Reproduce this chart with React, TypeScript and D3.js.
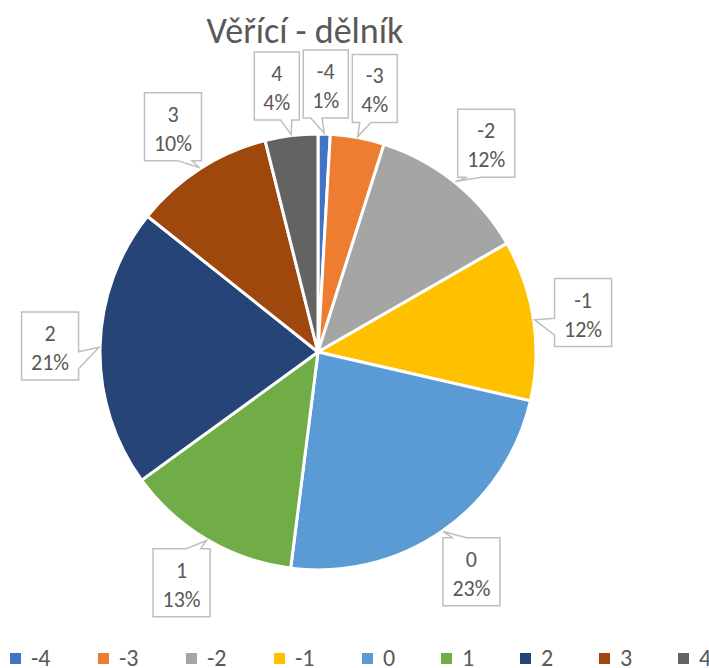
import * as d3 from 'd3'

// data (share of answers, %)
const categories = ['-4', '-3', '-2', '-1', '0', '1', '2', '3', '4']
const values = [0.9, 4.0, 11.8, 11.9, 23.4, 13.0, 20.7, 10.4, 3.9]
const colors = ['#4472C4', '#ED7D31', '#A5A5A5', '#FFC000', '#5B9BD5', '#70AD47', '#264478', '#9E480E', '#636363']
const title = 'Věřící - dělník'

const W = 709
const H = 668
const cx = 318
const cy = 352
const R = 218
const FONT = "Carlito, Calibri, 'Liberation Sans', Arial, sans-serif"
const GREY = '#595959'

type Lbl = { x: number; y: number; w: number; h: number; tx: number; ty: number; cat: string; pct: string }

// callout box with a wedge towards (tx, ty)
function calloutPath(l: Lbl) {
  const x0 = l.x - l.w / 2
  const y0 = l.y - l.h / 2
  const x1 = x0 + l.w
  const y1 = y0 + l.h
  const dx = (l.tx - l.x) / l.w
  const dy = (l.ty - l.y) / l.h
  const fr = (t: number) => (t > 0.5 ? [7 / 12, 10 / 12] : [2 / 12, 5 / 12])
  if (Math.abs(dx) > Math.abs(dy)) {
    const [a, b] = fr((l.ty - y0) / l.h)
    const ya = y0 + a * l.h
    const yb = y0 + b * l.h
    if (dx > 0) {
      return `M${x0},${y0}H${x1}V${ya}L${l.tx},${l.ty}L${x1},${yb}V${y1}H${x0}Z`
    }
    return `M${x0},${y0}H${x1}V${y1}H${x0}V${yb}L${l.tx},${l.ty}L${x0},${ya}Z`
  }
  const [a, b] = fr((l.tx - x0) / l.w)
  const xa = x0 + a * l.w
  const xb = x0 + b * l.w
  if (dy > 0) {
    return `M${x0},${y0}H${x1}V${y1}H${xb}L${l.tx},${l.ty}L${xa},${y1}H${x0}Z`
  }
  return `M${x0},${y0}H${xa}L${l.tx},${l.ty}L${xb},${y0}H${x1}V${y1}H${x0}Z`
}

export default function App() {
  const total = d3.sum(values)
  const pie = d3
    .pie<number>()
    .sort(null)
    .value((d) => d)
  const arcs = pie(values)
  const arc = d3.arc<d3.PieArcDatum<number>>().innerRadius(0).outerRadius(R)

  // label boxes placed outside the pie on the mid angle
  const labels: Lbl[] = arcs.map((a, i) => {
    const mid = (a.startAngle + a.endAngle) / 2
    const pct = Math.round((values[i] / total) * 100) + '%'
    const lr = 268
    return {
      x: cx + Math.sin(mid) * lr,
      y: cy - Math.cos(mid) * lr,
      w: 21 + 12 * pct.length,
      h: 68,
      tx: cx + Math.sin(mid) * (R + 1),
      ty: cy - Math.cos(mid) * (R + 1),
      cat: categories[i],
      pct,
    }
  })
  // push overlapping boxes apart sideways
  for (let k = 0; k < 30; k++) {
    for (let i = 0; i < labels.length; i++) {
      for (let j = i + 1; j < labels.length; j++) {
        const p = labels[i]
        const q = labels[j]
        const need = (p.w + q.w) / 2 + 4
        const sep = Math.abs(p.x - q.x)
        if (Math.abs(p.y - q.y) < (p.h + q.h) / 2 && sep < need) {
          const s = (need - sep) / 2
          if (p.x < q.x) {
            p.x -= s
            q.x += s
          } else {
            p.x += s
            q.x -= s
          }
        }
      }
    }
  }

  // legend row
  let lx = 10
  const legend = categories.map((c, i) => {
    const item = { x: lx, c, color: colors[i] }
    lx += 70 + 9 * c.length
    return item
  })

  return (
    <svg width={W} height={H} style={{ position: 'absolute', left: 0, top: 0, background: '#fff' }}>
      <text x={305} y={43} textAnchor="middle" fontFamily={FONT} fontSize={36} fill={GREY}>
        {title}
      </text>
      <g transform={`translate(${cx},${cy})`}>
        {arcs.map((a, i) => (
          <path key={i} d={arc(a) || ''} fill={colors[i]} stroke="#fff" strokeWidth={3} strokeLinejoin="round" />
        ))}
      </g>
      {labels.map((l, i) => (
        <g key={i}>
          <path d={calloutPath(l)} fill="#fff" stroke="#BFBFBF" strokeWidth={1.5} />
          <text x={l.x} y={l.y - 5} textAnchor="middle" fontFamily={FONT} fontSize={22} fill={GREY}>
            {l.cat}
          </text>
          <text x={l.x} y={l.y + 24} textAnchor="middle" fontFamily={FONT} fontSize={22} fill={GREY}>
            {l.pct}
          </text>
        </g>
      ))}
      {legend.map((d, i) => (
        <g key={i}>
          <rect x={d.x} y={653} width={11} height={11} fill={d.color} />
          <text x={d.x + 21} y={666} fontFamily={FONT} fontSize={24} fill={GREY}>
            {d.c}
          </text>
        </g>
      ))}
    </svg>
  )
}
